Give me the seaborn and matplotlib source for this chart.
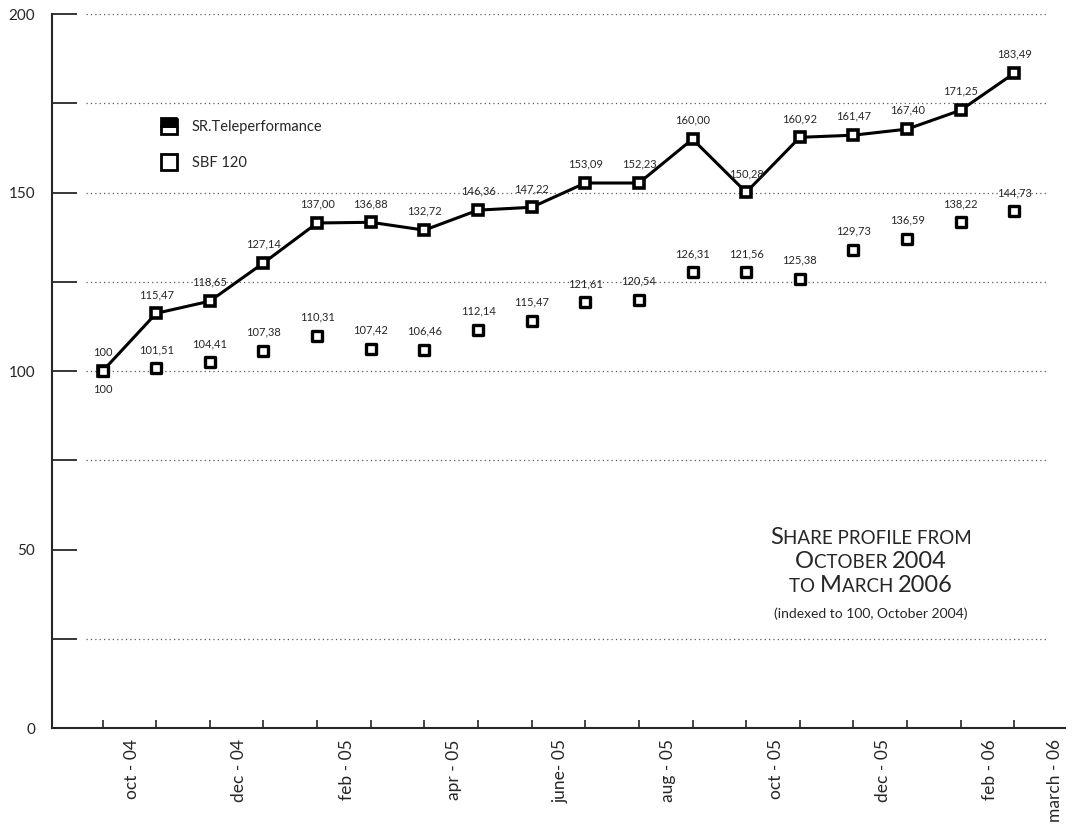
import pandas as pd
import seaborn as sns
import matplotlib.pyplot as plt
from matplotlib.lines import Line2D

months = ['oct - 04', 'nov - 04', 'dec - 04', 'jan - 05', 'feb - 05', 'mar - 05',
          'apr - 05', 'may - 05', 'june- 05', 'jul - 05', 'aug - 05', 'sep - 05',
          'oct - 05', 'nov - 05', 'dec - 05', 'jan - 06', 'feb - 06', 'march - 06']
# plotted positions
sr_vals = [100, 116.2, 119.6, 130.3, 141.5, 141.7, 139.5, 145.1, 145.9, 152.7,
           152.7, 165.0, 150.1, 165.5, 166.1, 167.8, 173.1, 183.5]
sbf_vals = [100, 100.8, 102.5, 105.6, 109.8, 106.2, 105.9, 111.5, 114.0, 119.3,
            119.9, 127.7, 127.7, 125.8, 133.9, 137.0, 141.7, 144.8]
# printed labels
sr_labels = ['100', '115,47', '118,65', '127,14', '137,00', '136,88', '132,72', '146,36',
             '147,22', '153,09', '152,23', '160,00', '150,28', '160,92', '161,47',
             '167,40', '171,25', '183,49']
sbf_labels = ['100', '101,51', '104,41', '107,38', '110,31', '107,42', '106,46', '112,14',
              '115,47', '121,61', '120,54', '126,31', '121,56', '125,38', '129,73',
              '136,59', '138,22', '144,73']
shown_months = ['oct - 04', 'dec - 04', 'feb - 05', 'apr - 05', 'june- 05', 'aug - 05',
                'oct - 05', 'dec - 05', 'feb - 06', 'march - 06']

df = pd.DataFrame({'idx': range(len(months)), 'month': months,
                   'sr': sr_vals, 'sbf': sbf_vals})

sns.set_style('white')
plt.rcParams['font.family'] = ['Lato', 'DejaVu Sans']

fig = plt.figure(figsize=(10.75, 8.34), dpi=100)
ax = fig.add_axes([0.048, 0.127, 0.943, 0.856])

sns.lineplot(data=df, x='idx', y='sr', ax=ax, color='black', lw=2.2,
             marker='s', markersize=7, markerfacecolor='white',
             markeredgecolor='black', markeredgewidth=2.6)
sns.scatterplot(data=df, x='idx', y='sbf', ax=ax, marker='s', s=50,
                facecolor='white', edgecolor='black', linewidth=2.4, zorder=3)

for i, row in df.iterrows():
    ax.annotate(sr_labels[i], (row['idx'], row['sr']), xytext=(0, 11),
                textcoords='offset points', ha='center', fontsize=8)
    off = -16 if i == 0 else 11
    ax.annotate(sbf_labels[i], (row['idx'], row['sbf']), xytext=(0, off),
                textcoords='offset points', ha='center', fontsize=8)

# dotted grid
for y in [25, 75, 100, 125, 150, 175, 200]:
    ax.hlines(y, -0.3, 17.6, colors='0.35', linestyles=(0, (1, 2.5)), lw=0.9, zorder=0)

ax.set_xlim(-0.95, 17.95)
ax.set_ylim(0, 200)
ax.set_yticks([0, 25, 50, 75, 100, 125, 150, 175, 200])
ax.set_yticklabels(['0', '', '50', '', '100', '', '150', '', '200'])
ax.tick_params(axis='y', left=True, direction='in', length=18, width=1.3, pad=12, labelsize=11)
ax.set_xticks(range(len(months)))
ax.set_xticklabels([])
ax.tick_params(axis='x', which='major', bottom=True, direction='in', length=6, width=1.2)
lab_pos = [months.index(m) + 0.55 for m in shown_months]
lab_pos[-1] = 17.75
ax.set_xticks(lab_pos, minor=True)
ax.set_xticklabels(shown_months, minor=True, rotation=90, fontsize=12.5)
ax.tick_params(axis='x', which='minor', length=0, pad=8)
ax.set_xlabel('')
ax.set_ylabel('')
for s in ['top', 'right']:
    ax.spines[s].set_visible(False)
ax.spines['left'].set_linewidth(1.5)
ax.spines['bottom'].set_linewidth(1.5)

handles = [Line2D([], [], ls='', marker='s', markersize=11, markerfacecolor='black',
                  markeredgecolor='black', markeredgewidth=2, fillstyle='top'),
           Line2D([], [], ls='', marker='s', markersize=11, markerfacecolor='white',
                  markeredgecolor='black', markeredgewidth=2)]
ax.legend(handles, ['SR.Teleperformance', 'SBF 120'], loc='upper left',
          bbox_to_anchor=(0.088, 0.87), frameon=False, fontsize=10.5,
          labelspacing=1.5, handletextpad=0.6)

# small caps title, line by line
fig.canvas.draw()
renderer = fig.canvas.get_renderer()
big, small = 17, 13.5
title_lines = [
    [('S', big), ('HARE PROFILE FROM', small)],
    [('O', big), ('CTOBER ', small), ('2004', big)],
    [('TO ', small), ('M', big), ('ARCH ', small), ('2006', big)],
]
baselines = [544, 568, 592]
cx = 871
for parts, yb in zip(title_lines, baselines):
    objs = []
    widths = []
    for txt, size in parts:
        t = fig.text(0, 0, txt, fontsize=size, va='baseline', ha='left')
        widths.append(t.get_window_extent(renderer).width)
        objs.append(t)
    x0 = cx - sum(widths) / 2
    for t, w in zip(objs, widths):
        t.set_position((x0 / 1075, 1 - yb / 834))
        x0 += w
fig.text(cx / 1075, 1 - 618 / 834, '(indexed to 100, October 2004)', fontsize=10,
         ha='center', va='baseline')

plt.savefig('out.png', dpi=100)
